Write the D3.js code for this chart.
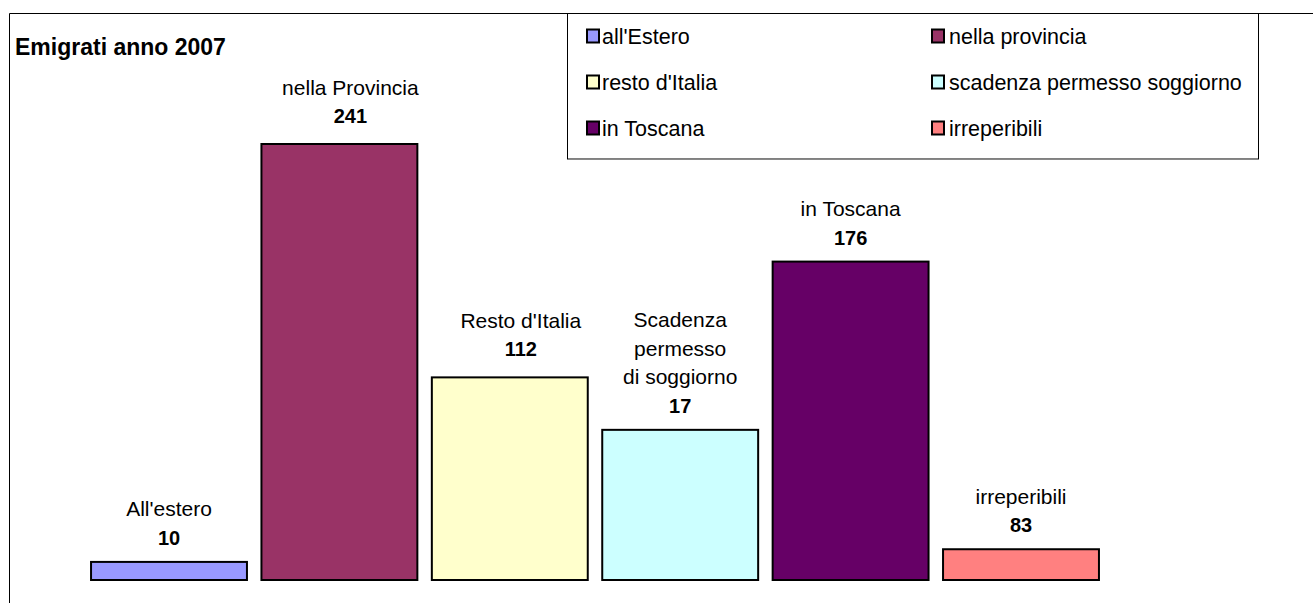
<!DOCTYPE html>
<html>
<head>
<meta charset="utf-8">
<script src="https://cdn.jsdelivr.net/npm/d3@7"></script>
<style>
  body { margin: 0; background: #fff; }
  text { font-family: "Liberation Sans", Arial, sans-serif; fill: #000; }
</style>
</head>
<body>
<svg id="chart" width="1313" height="603"></svg>
<script>
// categories and values
const categories = ["All'estero", "nella Provincia", "Resto d'Italia", "Scadenza permesso di soggiorno", "in Toscana", "irreperibili"];
const labelLines = [["All'estero"], ["nella Provincia"], ["Resto d'Italia"], ["Scadenza", "permesso", "di soggiorno"], ["in Toscana"], ["irreperibili"]];
// bar heights as drawn
const values = [10, 241, 112, 83, 176, 17];
// numbers printed above the bars (as in the original)
const valueLabels = ["10", "241", "112", "17", "176", "83"];
const legendNames = ["all'Estero", "nella provincia", "resto d'Italia", "scadenza permesso soggiorno", "in Toscana", "irreperibili"];
const colors = ["#9999ff", "#993366", "#ffffcc", "#ccffff", "#660066", "#ff8080"];
const title = "Emigrati anno 2007";

const svg = d3.select("#chart");

// outer frame (top and left edge)
svg.append("line").attr("x1", 9.5).attr("x2", 1313).attr("y1", 13.5).attr("y2", 13.5).attr("stroke", "#000");
svg.append("line").attr("x1", 9.5).attr("x2", 9.5).attr("y1", 13.5).attr("y2", 603).attr("stroke", "#000");

svg.append("text")
  .attr("x", 15).attr("y", 54.5)
  .attr("font-size", "23px").attr("font-weight", "bold")
  .text(title);

const x = d3.scaleBand()
  .domain(categories)
  .range([83.8, 1106.2])
  .paddingInner(0.085)
  .paddingOuter(0.0425);

const y = d3.scaleLinear()
  .domain([0, 241])
  .range([580, 144]);

// labels of 2nd and 3rd bar were moved by hand in the original
const labelDx = [0, 11, 11, 0, 0, 0];
const labelDy = [0, -4, -4, 0, 0, 0];

const bar = svg.selectAll("g.bar")
  .data(values)
  .join("g")
  .attr("class", "bar");

bar.append("rect")
  .attr("x", (d, i) => x(categories[i]))
  .attr("y", d => y(d))
  .attr("width", x.bandwidth())
  .attr("height", d => y(0) - y(d))
  .attr("fill", (d, i) => colors[i])
  .attr("stroke", "#000")
  .attr("stroke-width", 2);

bar.append("text")
  .attr("x", (d, i) => x(categories[i]) + x.bandwidth() / 2 + labelDx[i])
  .attr("y", (d, i) => y(d) - 17 + labelDy[i])
  .attr("text-anchor", "middle")
  .attr("font-size", "20px")
  .attr("font-weight", "bold")
  .text((d, i) => valueLabels[i]);

bar.each(function (d, i) {
  const lines = labelLines[i];
  const cx = x(categories[i]) + x.bandwidth() / 2 + labelDx[i];
  d3.select(this).selectAll("text.cat")
    .data(lines)
    .join("text")
    .attr("class", "cat")
    .attr("x", cx)
    .attr("y", (t, j) => y(d) - 17 + labelDy[i] - 28.5 * (lines.length - j))
    .attr("text-anchor", "middle")
    .attr("font-size", "21px")
    .text(t => t);
});

// legend
const legend = svg.append("g");
legend.append("rect")
  .attr("x", 567.5).attr("y", 13.5)
  .attr("width", 691).attr("height", 145.5)
  .attr("fill", "#fff").attr("stroke", "#000");
legend.append("line")
  .attr("x1", 568).attr("x2", 1259).attr("y1", 159.5).attr("y2", 159.5)
  .attr("stroke", "#888");

const item = legend.selectAll("g.item")
  .data(legendNames)
  .join("g")
  .attr("class", "item")
  .attr("transform", (d, i) => `translate(${i % 2 === 0 ? 587 : 932}, ${36 + 46 * Math.floor(i / 2)})`);

item.append("rect")
  .attr("x", 0).attr("y", -6.5)
  .attr("width", 12).attr("height", 13)
  .attr("fill", (d, i) => colors[i])
  .attr("stroke", "#000")
  .attr("stroke-width", 2);

item.append("text")
  .attr("x", (d, i) => i % 2 === 0 ? 15 : 17)
  .attr("y", 7.5)
  .attr("font-size", "21.5px")
  .text(d => d);
</script>
</body>
</html>
